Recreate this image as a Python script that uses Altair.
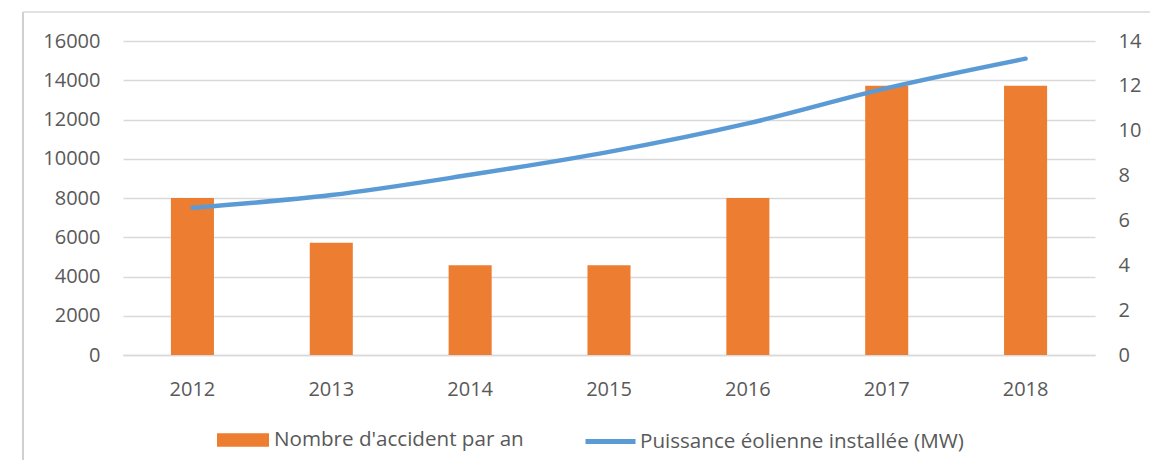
import altair as alt
import pandas as pd

years = ["2012", "2013", "2014", "2015", "2016", "2017", "2018"]
accidents = [7, 5, 4, 4, 7, 12, 12]
power = [7500, 8150, 9180, 10350, 11800, 13600, 15100]
left_ticks = [0, 2000, 4000, 6000, 8000, 10000, 12000, 14000, 16000]
right_ticks = [0, 2, 4, 6, 8, 10, 12, 14]
bar_label = "Nombre d'accident par an"
line_label = "Puissance éolienne installée (MW)"

df = pd.DataFrame({"year": years, "accidents": accidents, "power": power,
                   "lab": [bar_label] * 7, "lab2": [line_label] * 7})

FONT = "Open Sans"
GREY = "#595959"
GRID = "#d9d9d9"
W, H = 972, 314

x = alt.X("year:N", title=None,
          scale=alt.Scale(paddingInner=0.69, paddingOuter=0.345),
          axis=alt.Axis(labelAngle=0, labelFont=FONT, labelFontSize=20, labelColor=GREY,
                        labelPadding=24, ticks=False, tickSize=0, domain=True,
                        domainColor=GRID, domainWidth=1.5, grid=False))

bars = alt.Chart(df).mark_bar(color="#ED7D31").encode(
    x=x,
    y=alt.Y("accidents:Q", title=None,
            scale=alt.Scale(domain=[0, 14], nice=False, zero=True),
            axis=alt.Axis(orient="right", values=right_ticks, format="d", labelFont=FONT,
                          labelFontSize=20, labelColor=GREY, labelPadding=23, ticks=False,
                          tickSize=0, domain=False, grid=False, labelAlign="left")),
    fill=alt.Fill("lab:N", scale=alt.Scale(domain=[bar_label], range=["#ED7D31"]),
                  legend=alt.Legend(title=None, orient="none", legendX=94, legendY=373,
                                    symbolType="M-1,-0.26H1V0.26H-1Z", symbolSize=2704,
                                    symbolStrokeWidth=0, labelFont=FONT, labelFontSize=20.6,
                                    labelColor=GREY, labelOffset=5, labelLimit=0)),
)

line = alt.Chart(df).mark_line(color="#5B9BD5", strokeWidth=4.5, strokeCap="round",
                               interpolate="monotone").encode(
    x=x,
    y=alt.Y("power:Q", title=None,
            scale=alt.Scale(domain=[0, 16000], nice=False, zero=True),
            axis=alt.Axis(orient="left", values=left_ticks, format="d", labelFont=FONT,
                          labelFontSize=20, labelColor=GREY, labelPadding=23, ticks=False,
                          tickSize=0, domain=False, grid=True, gridColor=GRID, gridWidth=1.5)),
    stroke=alt.Stroke("lab2:N", scale=alt.Scale(domain=[line_label], range=["#5B9BD5"]),
                      legend=alt.Legend(title=None, orient="none", legendX=460, legendY=373,
                                        symbolType="stroke", symbolSize=2500,
                                        symbolStrokeWidth=5, labelFont=FONT, labelFontSize=20.6,
                                        labelColor=GREY, labelOffset=2, labelLimit=0)),
)

frame_data = alt.Data(values=[{"k": 1}])
frame_left = alt.Chart(frame_data).mark_rule(color="#d0d0d0", strokeWidth=2).encode(
    x=alt.value(-100), y=alt.value(-29), y2=alt.value(H + 105))
frame_top = alt.Chart(frame_data).mark_rule(color="#d9d9d9", strokeWidth=1.5).encode(
    x=alt.value(-100), x2=alt.value(1027), y=alt.value(-29))

chart = alt.layer(bars, line, frame_left, frame_top).resolve_scale(
    y="independent", fill="independent", stroke="independent"
).properties(
    width=W, height=H,
    autosize=alt.AutoSizeParams(type="none"),
    padding={"left": 115, "top": 33, "right": 55, "bottom": 105},
).configure_view(stroke=None)

chart.save("out.html", embed_options={"renderer": "svg", "actions": False})
